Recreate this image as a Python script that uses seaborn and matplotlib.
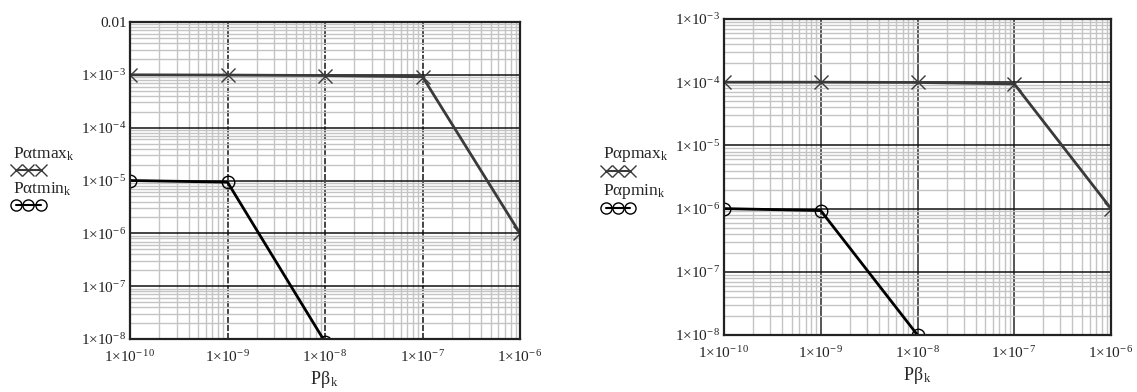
import numpy as np
import matplotlib
matplotlib.use("Agg")
import matplotlib.pyplot as plt
import seaborn as sns
from matplotlib.lines import Line2D
from matplotlib.ticker import LogLocator, FixedLocator, FuncFormatter

sns.set_style("white")
plt.rcParams['font.family'] = ['Liberation Serif', 'DejaVu Serif']
plt.rcParams['mathtext.fontset'] = 'custom'
plt.rcParams['mathtext.rm'] = 'Liberation Serif'
plt.rcParams['mathtext.it'] = 'Liberation Serif:italic'
plt.rcParams['mathtext.default'] = 'rm'

# ---- data ----
p_beta = [1e-10, 1e-9, 1e-8, 1e-7, 1e-6]
p_at_max = [1e-3, 9.9e-4, 9.7e-4, 9.2e-4, 1e-6]
p_at_min = [1e-5, 9.3e-6, 8.8e-9, 1e-11, 1e-12]
p_ap_max = [1e-4, 1e-4, 9.9e-5, 9.4e-5, 1e-6]
p_ap_min = [1e-6, 9.3e-7, 1e-8, 1e-10, 1e-11]

x_ticks = [1e-10, 1e-9, 1e-8, 1e-7, 1e-6]
y_ticks_left = [1e-8, 1e-7, 1e-6, 1e-5, 1e-4, 1e-3, 1e-2]
y_ticks_right = [1e-8, 1e-7, 1e-6, 1e-5, 1e-4, 1e-3]

label_at_max = "Pαtmax$_{\\mathrm{k}}$"
label_at_min = "Pαtmin$_{\\mathrm{k}}$"
label_ap_max = "Pαpmax$_{\\mathrm{k}}$"
label_ap_min = "Pαpmin$_{\\mathrm{k}}$"
x_label = "Pβ$_{\\mathrm{\\,k}}$"

MAX_COLOR = '#3a3a3a'
MIN_COLOR = '#000000'


def fmt(v, pos=None):
    if abs(v - 0.01) < 1e-12:
        return "0.01"
    e = int(round(np.log10(v)))
    return "1×10$^{-\\,%d}$" % (-e)


fig = plt.figure(figsize=(11.37, 3.92), dpi=100)
ax1 = fig.add_axes([130/1137, 1-339/392, 390/1137, 317/392])
ax2 = fig.add_axes([724/1137, 1-335/392, 387/1137, 316/392])


def setup(ax, yticks, ylim, xdash):
    ax.set_xscale('log')
    ax.set_yscale('log')
    ax.set_xlim(1e-10, 1e-6)
    ax.set_ylim(*ylim)
    ax.xaxis.set_major_locator(FixedLocator(x_ticks))
    ax.yaxis.set_major_locator(FixedLocator(yticks))
    ax.xaxis.set_minor_locator(LogLocator(base=10, subs=np.arange(2, 10), numticks=50))
    ax.yaxis.set_minor_locator(LogLocator(base=10, subs=np.arange(2, 10), numticks=50))
    ax.xaxis.set_major_formatter(FuncFormatter(fmt))
    ax.yaxis.set_major_formatter(FuncFormatter(fmt))
    ax.xaxis.set_minor_formatter(FuncFormatter(lambda v, p: ""))
    ax.yaxis.set_minor_formatter(FuncFormatter(lambda v, p: ""))
    ax.set_axisbelow(True)
    ax.grid(which='minor', color='#c4c4c4', lw=1.0)
    ax.yaxis.grid(which='major', color='#111111', lw=1.1)
    if xdash:
        ax.xaxis.grid(which='major', color='#111111', lw=1.1, linestyle=(0, (4, 1.2)))
    else:
        ax.xaxis.grid(which='major', color='#555555', lw=1.4)
    ax.tick_params(which='both', length=0, labelsize=11, colors='#222222')
    ax.tick_params(axis='y', pad=2)
    ax.tick_params(axis='x', pad=7)
    for s in ax.spines.values():
        s.set_color('#222222')
        s.set_linewidth(1.6)
    ax.set_xlabel(x_label, fontsize=13, labelpad=3)
    ax.set_ylabel("")


setup(ax1, y_ticks_left, (1e-8, 1e-2), True)
setup(ax2, y_ticks_right, (1e-8, 1e-3), False)


def draw(ax, ymax, ymin, lab_max, lab_min, anchor):
    sns.lineplot(x=p_beta, y=ymax, ax=ax, color=MAX_COLOR, lw=2.0, marker='x',
                 markersize=10, markeredgewidth=1.0, markeredgecolor=MAX_COLOR,
                 sort=False, estimator=None)
    sns.lineplot(x=p_beta, y=ymin, ax=ax, color=MIN_COLOR, lw=2.0, marker='o',
                 markersize=9, markerfacecolor='none', markeredgewidth=1.0,
                 markeredgecolor=MIN_COLOR, sort=False, estimator=None)
    blank = Line2D([], [], linestyle='none')
    h_max = Line2D([], [], color=MAX_COLOR, lw=1.5, marker='x', markersize=8,
                   markeredgewidth=1.0)
    h_min = Line2D([], [], color=MIN_COLOR, lw=1.5, marker='o', markersize=8,
                   markerfacecolor='none', markeredgewidth=1.0)
    leg = ax.legend(handles=[blank, h_max, blank, h_min],
                    labels=[lab_max, "", lab_min, ""],
                    loc='upper left', bbox_to_anchor=anchor, frameon=False,
                    handlelength=2.0, handletextpad=-1.9, numpoints=3,
                    labelspacing=0.05, borderpad=0, borderaxespad=0,
                    fontsize=12.5)
    return leg


draw(ax1, p_at_max, p_at_min, label_at_max, label_at_min, (-0.305, 0.61))
draw(ax2, p_ap_max, p_ap_min, label_ap_max, label_ap_min, (-0.318, 0.60))

fig.savefig("out.png", dpi=100)
